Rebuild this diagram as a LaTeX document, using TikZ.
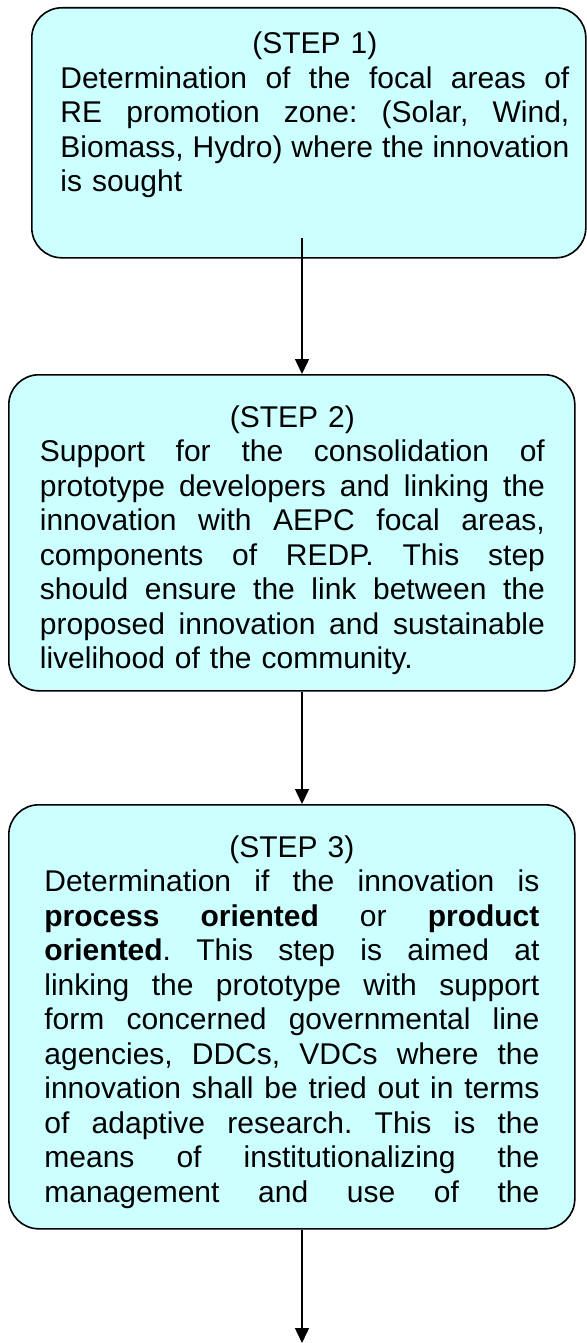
\documentclass[tikz,border=0pt]{standalone}
\usepackage{fontspec}
\setmainfont{Liberation Sans}
\usetikzlibrary{arrows.meta}
\definecolor{boxfill}{RGB}{204,255,255}
\newcommand\jline[1]{\hbox to \linewidth{\frenchspacing\spaceskip=.278em plus 1fil\relax #1}}
\newcommand\lline[1]{\hbox to \linewidth{#1\hfil}}
\newcommand\ctrline[1]{\hbox to \linewidth{\hfil#1\hfil}}
\tikzset{
  stepbox/.style={draw=black, line width=0.8pt, fill=boxfill, rounded corners=15pt,
    anchor=north west, inner sep=0pt},
  txt/.style={anchor=base west, inner sep=0pt, font=\fontsize{15pt}{17.25pt}\selectfont},
  arr/.style={draw=black, line width=0.7pt, -{Triangle[width=7pt,length=7.5pt]}}
}
\begin{document}
\begin{tikzpicture}[x=0.5pt,y=-0.5pt]
\useasboundingbox (0,0) rectangle (587,1343);
\node[stepbox, minimum width=277pt, minimum height=125pt] (b1) at (31,7) {};
\node[stepbox, minimum width=283pt, minimum height=158pt] (b2) at (8,374) {};
\node[stepbox, minimum width=283pt, minimum height=212pt] (b3) at (8,804) {};

\node[txt, text width=254.5pt] (t1) at (60,54) {%
\ctrline{(STEP 1)}
\jline{Determination of the focal areas of}
\jline{RE promotion zone: (Solar, Wind,}
\jline{Biomass, Hydro) where the innovation}
\lline{is sought}};

\node[txt, text width=252.5pt] (t2) at (39.5,427) {%
\ctrline{(STEP 2)}
\jline{Support for the consolidation of}
\jline{prototype developers and linking the}
\jline{innovation with AEPC focal areas,}
\jline{components of REDP. This step}
\jline{should ensure the link between the}
\jline{proposed innovation and sustainable}
\lline{livelihood of the community.}};

\node[txt, text width=247.5pt] (t3) at (44,857) {%
\ctrline{(STEP 3)}
\jline{Determination if the innovation is}
\jline{\textbf{process} \textbf{oriented} or \textbf{product}}
\jline{\textbf{oriented}. This step is aimed at}
\jline{linking the prototype with support}
\jline{form concerned governmental line}
\jline{agencies, DDCs, VDCs where the}
\jline{innovation shall be tried out in terms}
\jline{of adaptive research. This is the}
\jline{means of institutionalizing the}
\jline{management and use of the}};

\coordinate (s1) at (302,238);
\coordinate (e3) at (302,1343);
\draw[arr] (s1) -- (s1 |- b2.north);
\draw[arr] (b2.south -| s1) -- (b3.north -| s1);
\draw[arr] (b3.south -| e3) -- (e3);
\end{tikzpicture}
\end{document}
